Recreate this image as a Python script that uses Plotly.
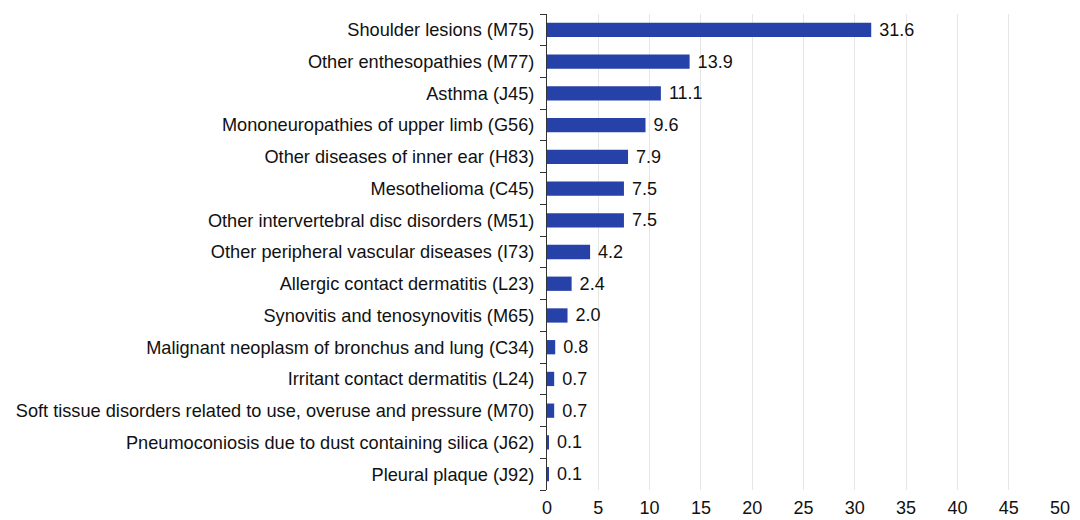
import plotly.graph_objects as go

categories = [
    "Shoulder lesions (M75)",
    "Other enthesopathies (M77)",
    "Asthma (J45)",
    "Mononeuropathies of upper limb (G56)",
    "Other diseases of inner ear (H83)",
    "Mesothelioma (C45)",
    "Other intervertebral disc disorders (M51)",
    "Other peripheral vascular diseases (I73)",
    "Allergic contact dermatitis (L23)",
    "Synovitis and tenosynovitis (M65)",
    "Malignant neoplasm of bronchus and lung (C34)",
    "Irritant contact dermatitis (L24)",
    "Soft tissue disorders related to use, overuse and pressure (M70)",
    "Pneumoconiosis due to dust containing silica (J62)",
    "Pleural plaque (J92)",
]
values = [31.6, 13.9, 11.1, 9.6, 7.9, 7.5, 7.5, 4.2, 2.4, 2.0, 0.8, 0.7, 0.7, 0.1, 0.1]
x_ticks = [0, 5, 10, 15, 20, 25, 30, 35, 40, 45, 50]

fig = go.Figure(go.Bar(
    y=categories,
    x=values,
    orientation="h",
    marker=dict(color="#2641A8", line=dict(width=0)),
    width=0.45,
    texttemplate=" %{x:.1f}",
    textposition="outside",
    constraintext="none",
    textfont=dict(size=18, color="#111111"),
    cliponaxis=False,
))

fig.update_layout(
    width=1072, height=512,
    margin=dict(l=539, r=20, t=6, b=30, autoexpand=False),
    paper_bgcolor="white", plot_bgcolor="white",
    font=dict(family="Liberation Sans, Arial, sans-serif", size=18, color="#111111"),
    showlegend=False,
    xaxis=dict(
        range=[0, 50], tickvals=x_ticks, showgrid=True, gridcolor="#E6E6E6", gridwidth=1,
        zeroline=False, showline=False, ticks="", tickfont=dict(size=18),
        ticklabelstandoff=5, automargin=False,
    ),
    yaxis=dict(
        categoryorder="array", categoryarray=categories[::-1],
        showline=True, linecolor="#333333", linewidth=1,
        ticks="outside", tickson="boundaries", ticklen=6, tickcolor="#333333",
        tickfont=dict(size=18.2), showgrid=False, ticklabelstandoff=8, automargin=False,
    ),
)

fig.write_html("out.html")
